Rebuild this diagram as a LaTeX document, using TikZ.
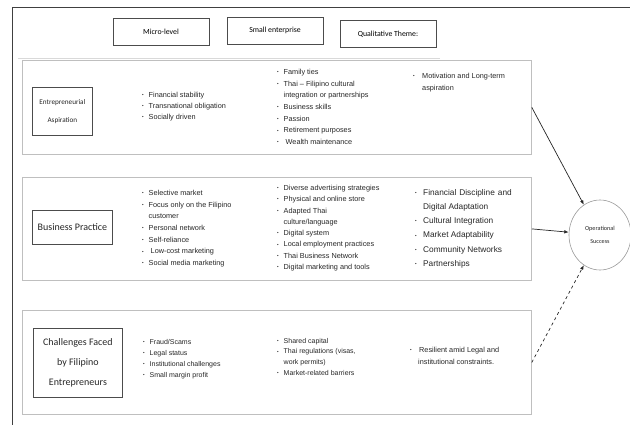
\documentclass[tikz,border=0pt]{standalone}
\usepackage{fontspec}
\setmainfont{Liberation Sans}
\newfontfamily\calfont{Carlito}
\usetikzlibrary{arrows.meta,shapes.geometric}
\newcommand{\bul}[1][6.5pt]{\makebox[#1][l]{\raisebox{0.8pt}{\fontsize{4.5}{4.5}\selectfont\textbullet}}}
\newcommand{\ind}[1][6.5pt]{\hspace*{#1}}
\tikzset{
  frame/.style={draw=black!75, line width=0.8pt},
  head/.style={draw=black!70, line width=0.9pt, minimum width=96pt, minimum height=27pt, inner sep=0pt, font=\calfont\fontsize{7.8}{9}\selectfont},
  rowbox/.style={draw=black!25, line width=0.8pt, minimum width=509pt, anchor=north west, inner sep=0pt},
  tag/.style={draw=black!70, line width=0.8pt, inner sep=0pt, align=center, anchor=north west, text=black!85},
  lst/.style={anchor=north west, inner sep=0pt, align=left, text=black!85},
  link/.style={-{Latex[length=4.5pt,width=3.5pt]}, line width=0.7pt, black!85},
}
\begin{document}
\begin{tikzpicture}[x=1pt,y=-1pt]
  \useasboundingbox (0,0) rectangle (630,425);
  \draw[frame] (12,425) -- (12,7) -- (630,7);
  \draw[black!15, line width=0.6pt] (18,58) -- (440,58);

  \node[head] (micro) at (161,32) {Micro-level};
  \node[head] (small) at (275,30.5) {Small enterprise};
  \node[head] (theme) at (388,34) {Qualitative Theme:};

  \node[rowbox, minimum height=94pt] (aspRow) at (22,60) {};
  \node[rowbox, minimum height=103pt] (pracRow) at (22,177) {};
  \node[rowbox, minimum height=104pt] (chalRow) at (22,310) {};

  \node[tag, minimum width=60pt, minimum height=48pt, font=\calfont\fontsize{7.2}{18}\selectfont] (aspTag) at (32,87) {Entrepreneurial\\Aspiration};
  \node[tag, minimum width=80pt, minimum height=34pt, font=\calfont\fontsize{10}{12}\selectfont] (pracTag) at (32,210) {Business Practice};
  \node[tag, minimum width=89pt, minimum height=69pt, font=\calfont\fontsize{10}{20}\selectfont] (chalTag) at (33,328) {Challenges Faced\\by Filipino\\Entrepreneurs};

  \node[lst, font=\fontsize{7.3}{11}\selectfont] (aspMicro) at (142,92) {\bul Financial stability\\\bul Transnational obligation\\\bul Socially driven};
  \node[lst, font=\fontsize{7.3}{11.7}\selectfont] (aspSmall) at (277,69) {\bul Family ties\\\bul Thai -- Filipino cultural\\\ind integration or partnerships\\\bul Business skills\\\bul Passion\\\bul Retirement purposes\\\bul\ Wealth maintenance};
  \node[lst, font=\fontsize{7.3}{12}\selectfont] (aspTheme) at (413,73) {\bul[9pt]Motivation and Long-term\\\ind[9pt]aspiration};

  \node[lst, font=\fontsize{7.3}{11.7}\selectfont] (pracMicro) at (142,190) {\bul Selective market\\\bul Focus only on the Filipino\\\ind customer\\\bul Personal network\\\bul Self-reliance\\\bul\ Low-cost marketing\\\bul Social media marketing};
  \node[lst, font=\fontsize{7.3}{11.3}\selectfont] (pracSmall) at (277,185) {\bul Diverse advertising strategies\\\bul Physical and online store\\\bul Adapted Thai\\\ind culture/language\\\bul Digital system\\\bul Local employment practices\\\bul Thai Business Network\\\bul Digital marketing and tools};
  \node[lst, font=\fontsize{8.3}{14.2}\selectfont] (pracTheme) at (415,189) {\bul[8pt]\makebox[84pt][s]{Financial\hspace{3pt plus 1fill}Discipline\hspace{3pt plus 1fill}and}\\\ind[8pt]Digital Adaptation\\\bul[8pt]Cultural Integration\\\bul[8pt]Market Adaptability\\\bul[8pt]Community Networks\\\bul[8pt]Partnerships};

  \node[lst, font=\fontsize{7}{11}\selectfont] (chalMicro) at (143,339) {\bul Fraud/Scams\\\bul Legal status\\\bul Institutional challenges\\\bul Small margin profit};
  \node[lst, font=\fontsize{7}{10.7}\selectfont] (chalSmall) at (277,338) {\bul Shared capital\\\bul Thai regulations (visas,\\\ind work permits)\\\bul Market-related barriers};
  \node[lst, font=\fontsize{7.3}{12}\selectfont] (chalTheme) at (410,347) {\bul[9pt]Resilient amid Legal and\\\ind[8pt]institutional constraints.};

  \node[draw=black!40, line width=0.6pt, ellipse, minimum width=62pt, minimum height=70pt, inner sep=0pt, align=center, text=black!85, font=\calfont\fontsize{6.2}{13}\selectfont] (success) at (600,235) {Operational\\Success};

  \draw[link] (aspRow.east) -- (success);
  \draw[link] (pracRow.east) -- (success);
  \draw[link, dashed] (chalRow.east) -- (success);
\end{tikzpicture}
\end{document}
